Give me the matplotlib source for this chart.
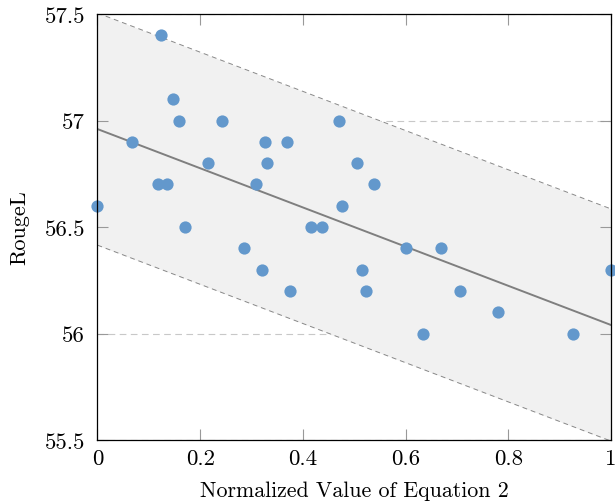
import numpy as np
import matplotlib
matplotlib.use("Agg")
import matplotlib.pyplot as plt

# data
xs = np.array([0.0, 0.067, 0.124, 0.117, 0.136, 0.148, 0.159, 0.170, 0.216, 0.242,
               0.285, 0.308, 0.321, 0.327, 0.330, 0.369, 0.374, 0.416, 0.437, 0.470,
               0.477, 0.505, 0.516, 0.523, 0.538, 0.601, 0.634, 0.669, 0.705, 0.780,
               0.926, 1.0])
ys = np.array([56.6, 56.9, 57.4, 56.7, 56.7, 57.1, 57.0, 56.5, 56.8, 57.0,
               56.4, 56.7, 56.3, 56.9, 56.8, 56.9, 56.2, 56.5, 56.5, 57.0,
               56.6, 56.8, 56.3, 56.2, 56.7, 56.4, 56.0, 56.4, 56.2, 56.1,
               56.0, 56.3])

# regression line and band as seen in the chart
intercept = 56.96
slope = -0.92
band = 0.545

xticks = [0, 0.2, 0.4, 0.6, 0.8, 1]
xticklabels = ["0", "0.2", "0.4", "0.6", "0.8", "1"]
yticks = [55.5, 56, 56.5, 57, 57.5]
yticklabels = ["55.5", "56", "56.5", "57", "57.5"]

plt.rcParams['font.family'] = ['cmr10', 'DejaVu Serif']
plt.rcParams['axes.formatter.use_mathtext'] = True

fig = plt.figure(figsize=(6.15, 5.02), dpi=100)
ax = fig.add_axes([0.1585, 0.1215, 0.8350, 0.8485])

lx = np.array([0.0, 1.0])
ly = intercept + slope * lx

ax.fill_between(lx, ly - band, ly + band, color='#f1f1f1', zorder=1, lw=0)
ax.plot(lx, ly + band, ls=(0, (5, 4)), color='#888888', lw=0.7, zorder=2)
ax.plot(lx, ly - band, ls=(0, (5, 4)), color='#888888', lw=0.7, zorder=2)
ax.plot(lx, ly, color='#7f7f7f', lw=1.4, zorder=3)
ax.plot(xs, ys, 'o', color='#6398cc', ms=8.8, mec='none', zorder=4, clip_on=False)

for y in yticks:
    ax.axhline(y, color='#c8c8c8', ls=(0, (6, 4)), lw=0.8, zorder=0)

ax.set_xlim(0, 1)
ax.set_ylim(55.5, 57.5)
ax.set_xticks(xticks)
ax.set_xticklabels(xticklabels)
ax.set_yticks(yticks)
ax.set_yticklabels(yticklabels)
ax.tick_params(direction='in', length=8, width=0.8, color='#999999',
               top=True, right=True, labelsize=16.5)
ax.tick_params(axis='x', pad=6)
ax.tick_params(axis='y', pad=9)
for s in ax.spines.values():
    s.set_linewidth(0.9)
    s.set_zorder(5)

ax.set_xlabel('Normalized Value of Equation 2', fontsize=15.8, labelpad=9)
ax.set_ylabel('RougeL', fontsize=16, labelpad=11)

fig.savefig("out.png", dpi=100)
